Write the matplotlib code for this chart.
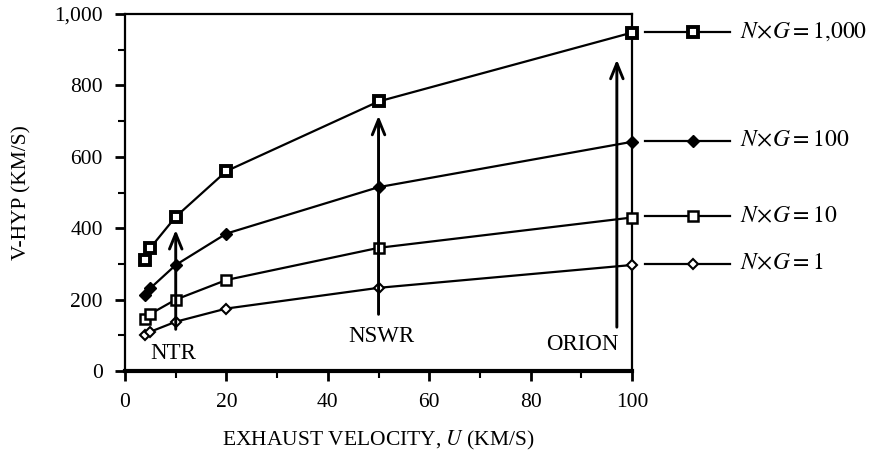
import matplotlib.pyplot as plt
from matplotlib.ticker import MultipleLocator, FuncFormatter
import matplotlib.transforms as mtransforms

plt.rcParams['font.family'] = ['Liberation Serif', 'DejaVu Serif']
plt.rcParams['mathtext.fontset'] = 'stix'

# exhaust velocity U (km/s)
u = [4, 5, 10, 20, 50, 100]
# V-hyp (km/s) for each N x G
v_1000 = [310, 345, 432, 560, 755, 948]
v_100 = [212, 232, 297, 385, 515, 642]
v_10 = [145, 160, 200, 255, 345, 430]
v_1 = [100, 110, 138, 175, 233, 297]
labels = ['1,000', '100', '10', '1']

# arrows: x, start, end, label
arrow_x = [10, 50, 97]
arrow_from = [109, 151, 115]
arrow_to = [403, 723, 880]
arrow_names = ['NTR', 'NSWR', 'ORION']

fig = plt.figure(figsize=(8.7, 4.55), dpi=100)
ax = fig.add_axes([0.1437, 0.1846, 0.5828, 0.7846])

styles = [
    dict(marker='s', ms=7, mfc='white', mec='black', mew=2.8),
    dict(marker='D', ms=6, mfc='black', mec='black', mew=1),
    dict(marker='s', ms=7.5, mfc='white', mec='black', mew=1.8),
    dict(marker='D', ms=5, mfc='white', mec='black', mew=1.5),
]
series = [v_1000, v_100, v_10, v_1]

trans = mtransforms.blended_transform_factory(ax.transAxes, ax.transData)
for vals, st, lab in zip(series, styles, labels):
    ax.plot(u, vals, color='black', lw=1.6, clip_on=False, zorder=3, **st)
    # legend row drawn at the height of the last point
    yl = vals[-1] + 3
    ax.plot([1.026, 1.193], [yl, yl], color='black', lw=1.6, transform=trans,
            clip_on=False)
    ax.plot([1.12], [yl], color='black', transform=trans, clip_on=False, **st)
    ax.text(1.213, yl, r'$N\!\times\!G{=}\mathrm{' + lab.replace(',', '{,}') + '}$',
            transform=trans, va='center', ha='left', fontsize=17)

for x, y0, y1, name in zip(arrow_x, arrow_from, arrow_to, arrow_names):
    ax.annotate('', xy=(x, y1), xytext=(x, y0),
                arrowprops=dict(arrowstyle='->,head_length=1.1,head_width=0.45',
                                lw=2.1, color='black'))

ax.text(9.5, 50, 'NTR', ha='center', va='center', fontsize=16.5)
ax.text(50.5, 97, 'NSWR', ha='center', va='center', fontsize=16.5)
ax.text(90.3, 73, 'ORION', ha='center', va='center', fontsize=16.5)

ax.set_xlim(0, 100)
ax.set_ylim(0, 1000)
ax.xaxis.set_major_locator(MultipleLocator(20))
ax.xaxis.set_minor_locator(MultipleLocator(10))
ax.yaxis.set_major_locator(MultipleLocator(200))
ax.yaxis.set_minor_locator(MultipleLocator(100))
ax.yaxis.set_major_formatter(FuncFormatter(lambda v, p: f'{int(v):,}'))
ax.tick_params(which='major', direction='out', length=7, width=2, labelsize=15.5, pad=9)
ax.tick_params(which='minor', direction='out', length=5, width=1.5)

for s in ['left', 'top', 'right']:
    ax.spines[s].set_linewidth(1.6)
ax.spines['bottom'].set_linewidth(3)

ax.set_xlabel('EXHAUST VELOCITY, $\\mathit{U}$ (KM/S)', fontsize=15.5, labelpad=12)
ax.set_ylabel('V-HYP (KM/S)', fontsize=15.5, labelpad=16)

fig.savefig('out.png', dpi=100)
